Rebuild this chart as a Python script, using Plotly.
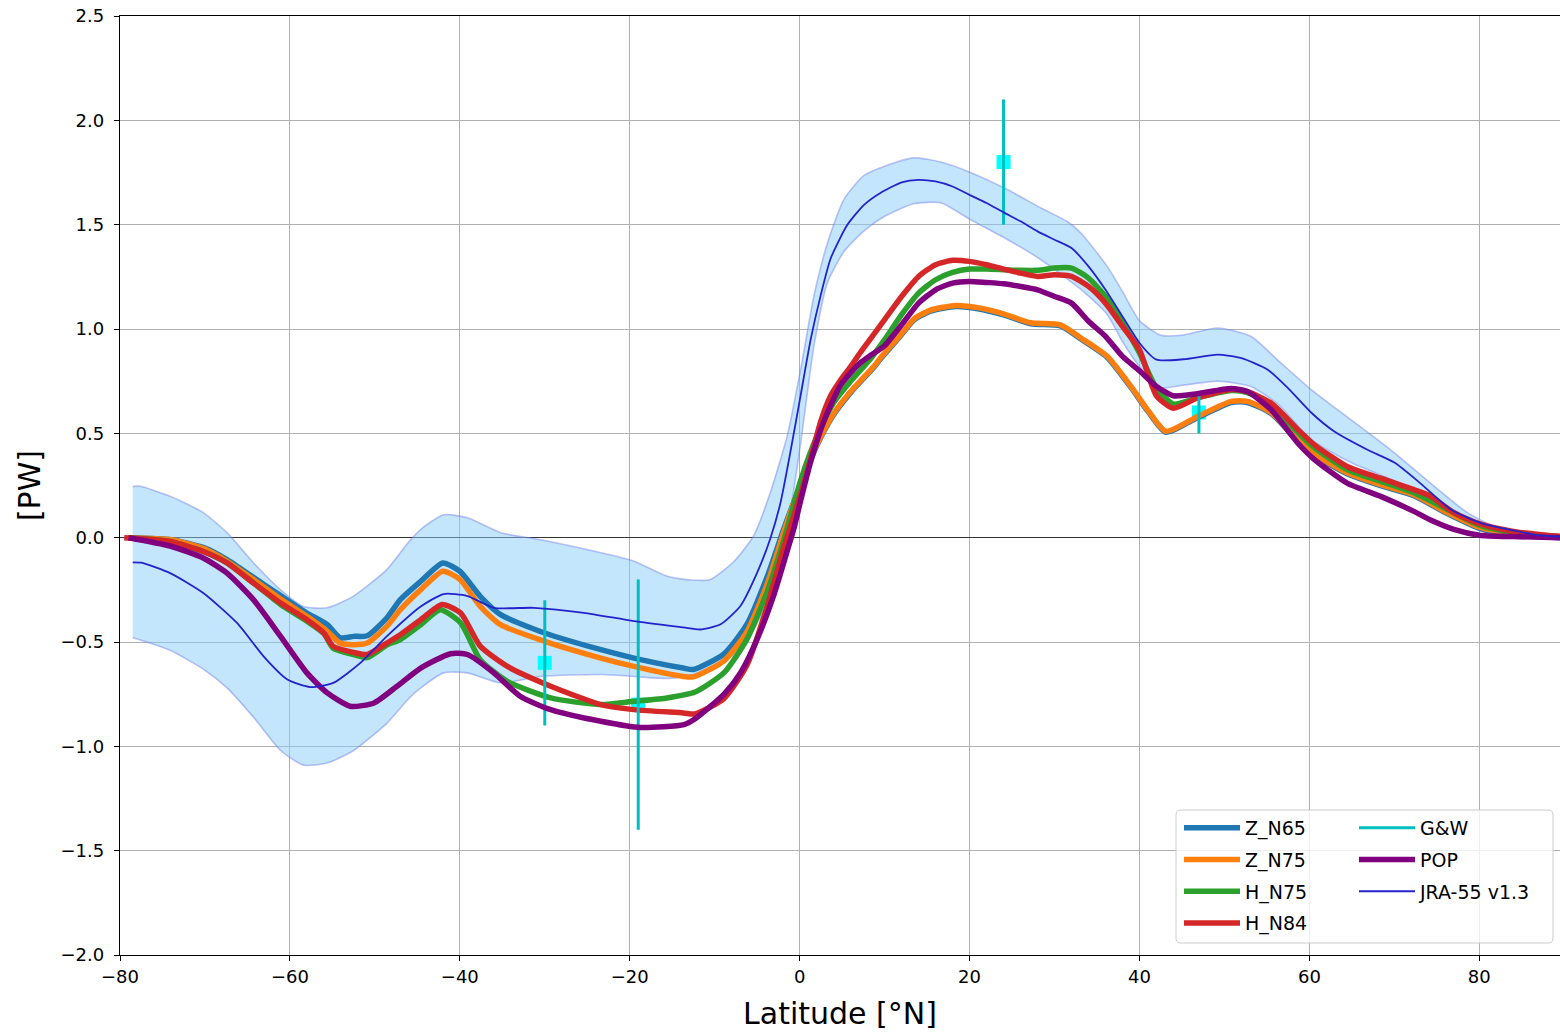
import plotly.graph_objects as go

FONT = "DejaVu Sans"

# ---------------- data (latitude in degrees N, heat transport in PW) ----------------
z65_lat = [-79, -74, -70, -67.4, -64.3, -61, -58, -55.6, -54.1, -52.5, -50.9, -48.6, -47, -44.6,
           -42, -40, -37.6, -35.2, -30, -23.4, -19.5, -13.7, -12.5, -8.9, -6.2, -3.8, -1.84, 0.12,
           2.1, 4, 6, 8.8, 9.5, 11.9, 13.5, 15.4, 18.4, 21.3, 24, 27.2, 30.7, 33.1, 36.2, 39, 41,
           43.1, 46.8, 50.8, 52.7, 55.5, 58.6, 60.6, 64.5, 68.4, 72.3, 76, 80, 84, 89.5]
z65_val = [0.0, -0.01, -0.05, -0.105, -0.19, -0.28, -0.361, -0.417, -0.48, -0.473, -0.47, -0.385,
           -0.297, -0.209, -0.121, -0.161, -0.281, -0.369, -0.457, -0.537, -0.577, -0.625, -0.632,
           -0.557, -0.415, -0.185, 0.045, 0.255, 0.448, 0.589, 0.695, 0.819, 0.856, 0.968, 1.045,
           1.085, 1.108, 1.095, 1.068, 1.025, 1.015, 0.952, 0.864, 0.72, 0.605, 0.505, 0.575, 0.648,
           0.648, 0.595, 0.465, 0.395, 0.305, 0.249, 0.201, 0.12, 0.045, 0.015, 0.0]

z75_lat = z65_lat
z75_val = [0.0, -0.01, -0.055, -0.113, -0.2, -0.297, -0.377, -0.449, -0.505, -0.513, -0.505, -0.425,
           -0.345, -0.249, -0.161, -0.2, -0.329, -0.417, -0.497, -0.577, -0.617, -0.665, -0.667,
           -0.59, -0.45, -0.22, 0.03, 0.26, 0.453, 0.594, 0.7, 0.824, 0.861, 0.973, 1.05, 1.09,
           1.113, 1.1, 1.073, 1.03, 1.02, 0.957, 0.869, 0.725, 0.61, 0.51, 0.58, 0.653, 0.653, 0.6,
           0.47, 0.4, 0.31, 0.254, 0.206, 0.125, 0.05, 0.02, 0.005]

h75_lat = [-79, -74.1, -70.2, -67.4, -64.3, -61.1, -58, -56, -54.9, -52.5, -50.9, -48.6, -47, -44.6,
           -42.3, -39.9, -37.6, -34.4, -29.3, -23.4, -19.5, -15.6, -12.3, -8.9, -6.2, -3.8, -1.84,
           0.12, 2.08, 4, 6, 8.4, 10, 12, 14, 16, 18, 20, 22, 24, 26, 28, 30, 32, 34, 36, 38, 40,
           42, 44, 46.8, 50.8, 52.7, 55.5, 58.6, 60.6, 64.5, 68.4, 72.3, 76, 80, 84, 89.5]
h75_val = [0.0, -0.018, -0.066, -0.121, -0.217, -0.32, -0.4, -0.46, -0.53, -0.56, -0.575, -0.515,
           -0.488, -0.417, -0.345, -0.409, -0.585, -0.689, -0.768, -0.8, -0.784, -0.768, -0.74,
           -0.647, -0.486, -0.256, -0.008, 0.275, 0.49, 0.647, 0.75, 0.86, 0.949, 1.069, 1.172,
           1.236, 1.271, 1.287, 1.287, 1.284, 1.281, 1.281, 1.292, 1.292, 1.244, 1.156, 1.029,
           0.885, 0.717, 0.64, 0.67, 0.705, 0.695, 0.635, 0.505, 0.43, 0.325, 0.27, 0.215, 0.14,
           0.06, 0.025, 0.005]

h84_lat = [-79.5, -74.1, -70.2, -67.4, -64.3, -61.1, -58, -56, -54.9, -52.5, -50.9, -48.6, -47,
           -44.6, -42.1, -39.9, -37.6, -34.4, -29.3, -23.4, -19.5, -13.7, -12.3, -8.9, -6.2, -3.8,
           -1.84, 0.12, 1.3, 2.5, 3.65, 4.8, 6, 7.2, 10, 12, 14, 16, 18, 20, 22, 24, 26, 28,
           30, 32, 34, 36, 38, 40, 42, 44, 46.8, 50.8, 52.7, 55.5, 58.6, 60.6, 64.5, 68.4, 72.3,
           74.2, 77, 80, 84, 89.5]
h84_val = [0.0, -0.018, -0.066, -0.121, -0.217, -0.313, -0.393, -0.457, -0.521, -0.55, -0.56,
           -0.505, -0.465, -0.393, -0.32, -0.361, -0.52, -0.617, -0.712, -0.8, -0.824, -0.84,
           -0.845, -0.77, -0.61, -0.326, -0.043, 0.21, 0.38, 0.56, 0.68, 0.754, 0.82, 0.89,
           1.045, 1.156, 1.252, 1.308, 1.329, 1.324, 1.308, 1.287, 1.268, 1.252, 1.26, 1.252,
           1.204, 1.124, 1.013, 0.9, 0.68, 0.62, 0.67, 0.71, 0.7, 0.645, 0.52, 0.445, 0.34, 0.285,
           0.23, 0.2, 0.12, 0.067, 0.03, 0.005]

pop_lat = [-79, -74.1, -70.2, -67.4, -64.3, -61.1, -58, -55.6, -52.9, -50.1, -47.4, -44.6, -41.1,
           -39.1, -36, -32.9, -29.3, -23.4, -18.7, -13.6, -12.3, -8.9, -6.95, -5, -3.02, -1.45,
           -0.67, 0.12, 1.3, 2.86, 4.8, 6, 7.2, 8.4, 10, 12, 14, 16, 18, 20, 22, 24, 26, 28, 30,
           32, 34, 36, 38, 40, 42, 44, 46.8, 50.8, 52.7, 55.5, 58.6, 60.6, 64.5, 68.4, 72.3, 74.2,
           77, 80, 84, 89.5]
pop_val = [0.0, -0.04, -0.097, -0.17, -0.297, -0.473, -0.648, -0.744, -0.808, -0.792, -0.712,
           -0.625, -0.556, -0.56, -0.648, -0.76, -0.824, -0.88, -0.91, -0.896, -0.868, -0.75,
           -0.647, -0.486, -0.273, -0.062, 0.045, 0.178, 0.364, 0.559, 0.73, 0.79, 0.84, 0.875,
           0.92, 1.02, 1.124, 1.188, 1.22, 1.228, 1.223, 1.217, 1.204, 1.188, 1.156, 1.124, 1.037,
           0.965, 0.869, 0.8, 0.725, 0.68, 0.69, 0.715, 0.7, 0.613, 0.455, 0.374, 0.26, 0.198,
           0.126, 0.086, 0.04, 0.012, 0.005, 0.0]

jra_lat = [-78.5, -77.5, -74.1, -70.2, -66.2, -63.1, -60.3, -57.6, -54.9, -51.7, -48.6, -44.6,
           -41.9, -39.1, -36, -31.3, -25.4, -19.5, -13.7, -11.7, -9.3, -6.95, -5, -3.42, -2.24,
           -1.06, 0.12, 1.3, 2.47, 3.65, 5.6, 7.58, 9.5, 12, 14, 16, 18, 20, 22, 24, 26, 28, 30,
           32, 34, 36, 38, 40, 42, 45.2, 49.2, 52, 55.1, 57.4, 60.2, 62.9, 66.9, 70, 72.8, 76.7,
           80.2, 86.5, 89.5]
jra_val = [-0.118, -0.12, -0.17, -0.265, -0.41, -0.569, -0.68, -0.716, -0.696, -0.6, -0.473,
           -0.33, -0.27, -0.28, -0.336, -0.336, -0.36, -0.4, -0.43, -0.44, -0.415, -0.326, -0.168,
           0.0, 0.17, 0.417, 0.683, 0.95, 1.16, 1.338, 1.498, 1.595, 1.652, 1.703, 1.715, 1.707,
           1.683, 1.643, 1.604, 1.559, 1.516, 1.468, 1.428, 1.388, 1.3, 1.188, 1.06, 0.933, 0.853,
           0.855, 0.877, 0.86, 0.805, 0.72, 0.6, 0.51, 0.42, 0.36, 0.27, 0.134, 0.07, 0.015, 0.005]

band_lat = [-78.5, -77.6, -74.1, -70.2, -67.4, -64.3, -61.1, -58.4, -55.6, -52.5, -48.6, -46,
            -44.6, -41.9, -39.1, -35.2, -30.5, -23.4, -19.5, -15.6, -12.8, -10.5, -7.74, -5.4,
            -3.42, -1.45, 0.12, 1.69, 3.26, 5.2, 7.58, 10, 13.4, 16.6, 20.1, 24.5, 28.4, 31.5,
            33.1, 36.2, 38, 40, 42.5, 45, 49.2, 53.1, 56.3, 60.2, 64.9, 69.6, 74.7, 78.6, 82.6, 89.5]
band_upper = [0.246, 0.246, 0.198, 0.12, 0.024, -0.12, -0.25, -0.33, -0.336, -0.28, -0.153, -0.02,
              0.04, 0.11, 0.095, 0.024, -0.01, -0.072, -0.113, -0.185, -0.203, -0.2, -0.114, 0.01,
              0.22, 0.49, 0.807, 1.16, 1.41, 1.62, 1.736, 1.78, 1.82, 1.8, 1.75, 1.667, 1.58,
              1.515, 1.46, 1.3, 1.18, 1.04, 0.97, 0.97, 1.005, 0.965, 0.85, 0.71, 0.565, 0.42,
              0.246, 0.12, 0.04, 0.005]
band_lower = [-0.48, -0.49, -0.54, -0.63, -0.72, -0.86, -1.02, -1.09, -1.08, -1.02, -0.89, -0.77,
              -0.72, -0.648, -0.648, -0.696, -0.665, -0.656, -0.665, -0.675, -0.66, -0.62, -0.56,
              -0.44, -0.27, 0.04, 0.453, 0.92, 1.22, 1.37, 1.47, 1.54, 1.6, 1.605, 1.524, 1.428,
              1.332, 1.24, 1.19, 1.07, 0.94, 0.82, 0.72, 0.73, 0.75, 0.725, 0.64, 0.47, 0.36,
              0.28, 0.19, 0.09, 0.03, 0.0]

gw_lat = [-30, -19, 24, 47]
gw_val = [-0.6, -0.8, 1.8, 0.6]
gw_err = [0.3, 0.6, 0.3, 0.1]

x_ticks = [-80, -60, -40, -20, 0, 20, 40, 60, 80]
y_ticks = [-2.0, -1.5, -1.0, -0.5, 0.0, 0.5, 1.0, 1.5, 2.0, 2.5]

# ---------------- figure ----------------
fig = go.Figure()

band_edge = "rgba(110,125,235,0.45)"
fig.add_trace(go.Scatter(x=band_lat, y=band_lower, mode="lines",
                         line=dict(color=band_edge, width=1.6, shape="spline", smoothing=0.6),
                         showlegend=False, hoverinfo="skip"))
fig.add_trace(go.Scatter(x=band_lat, y=band_upper, mode="lines",
                         line=dict(color=band_edge, width=1.6, shape="spline", smoothing=0.6),
                         fill="tonexty", fillcolor="rgba(135,206,250,0.5)", showlegend=False,
                         hoverinfo="skip"))

# G&W markers (below model lines)
fig.add_trace(go.Scatter(x=gw_lat, y=gw_val, mode="markers",
                         marker=dict(symbol="square", size=14, color="#00ffff", line=dict(width=0)),
                         showlegend=False, hoverinfo="skip"))

THICK = 5.5
models = [
    ("Z_N65", z65_lat, z65_val, "#1f77b4"),
    ("Z_N75", z75_lat, z75_val, "#ff7f0e"),
    ("H_N75", h75_lat, h75_val, "#2ca02c"),
    ("H_N84", h84_lat, h84_val, "#d62728"),
]
for i, (name, xs, ys, col) in enumerate(models):
    fig.add_trace(go.Scatter(x=xs, y=ys, mode="lines", name=name, legend="legend", legendgroup=name,
                             legendrank=i + 1,
                             line=dict(color=col, width=THICK, shape="spline", smoothing=0.6)))

# G&W error bars
ex, ey = [], []
for la, v, e in zip(gw_lat, gw_val, gw_err):
    ex += [la, la, None]
    ey += [v - e, v + e, None]
fig.add_trace(go.Scatter(x=ex, y=ey, mode="lines", name="G&amp;W", legend="legend2", legendgroup="GW",
                         legendrank=1, line=dict(color="#00bfbf", width=3)))

fig.add_trace(go.Scatter(x=pop_lat, y=pop_val, mode="lines", name="POP", legend="legend2",
                         legendgroup="POP", legendrank=2,
                         line=dict(color="#800080", width=THICK, shape="spline", smoothing=0.6)))
fig.add_trace(go.Scatter(x=jra_lat, y=jra_val, mode="lines", name="JRA-55 v1.3", legend="legend2",
                         legendgroup="JRA", legendrank=3,
                         line=dict(color="#2323cc", width=1.8, shape="spline", smoothing=0.6)))

# page coordinates (body margin is removed by the post script below)
OFF = 0
W, H = 1560, 1032
PLOT_L, PLOT_R, PLOT_T, PLOT_B = 120, 1560, 16, 955          # target page pixels
ML, MT = PLOT_L - OFF, PLOT_T - OFF
MR = (W + OFF) - PLOT_R
MB = (H + OFF) - PLOT_B
PW_, PH_ = PLOT_R - PLOT_L, PLOT_B - PLOT_T


def px2paper(px, py):
    return (px - PLOT_L) / PW_, (PLOT_B - py) / PH_


# legend frame (rounded rectangle)
x0, y1 = px2paper(1176, 810)
x1, y0 = px2paper(1553, 943)
rx, ry = 5 / PW_, 5 / PH_
path = (f"M {x0+rx},{y0} L {x1-rx},{y0} Q {x1},{y0} {x1},{y0+ry} L {x1},{y1-ry} Q {x1},{y1} {x1-rx},{y1} "
        f"L {x0+rx},{y1} Q {x0},{y1} {x0},{y1-ry} L {x0},{y0+ry} Q {x0},{y0} {x0+rx},{y0} Z")
fig.add_shape(type="path", path=path, xref="paper", yref="paper",
              line=dict(color="#cccccc", width=1), fillcolor="rgba(255,255,255,0.8)", layer="above")

lx1, ly = px2paper(1179, 809)
lx2, _ = px2paper(1354, 809)
leg_common = dict(xanchor="left", yanchor="top", bgcolor="rgba(0,0,0,0)", borderwidth=0,
                  font=dict(family=FONT, size=19, color="black"), itemwidth=56, tracegroupgap=4,
                  traceorder="grouped")

fig.update_layout(
    width=W, height=H,
    margin=dict(l=ML, r=MR, t=MT, b=MB, pad=0, autoexpand=False),
    paper_bgcolor="white", plot_bgcolor="white",
    font=dict(family=FONT, color="black"),
    showlegend=True,
    legend=dict(x=lx1, y=ly, **leg_common),
    legend2=dict(x=lx2, y=ly, **leg_common),
    xaxis=dict(range=[-80, 89.5], tickvals=x_ticks, showgrid=True, gridcolor="#b0b0b0", gridwidth=1.3,
               zeroline=False, showline=True, linecolor="black", linewidth=1.3, mirror=True,
               ticks="outside", ticklen=5, tickwidth=1.3, tickcolor="black",
               ticklabeloverflow="allow", automargin=False,
               tickfont=dict(family=FONT, size=18, color="black"),
               title=dict(text="Latitude [°N]", font=dict(family=FONT, size=30, color="black"),
                          standoff=17)),
    yaxis=dict(range=[-2.0, 2.5], tickvals=y_ticks, tickformat=".1f", showgrid=True,
               gridcolor="#b0b0b0", gridwidth=1.3, zeroline=True, zerolinecolor="#333333",
               zerolinewidth=1.3, showline=True, linecolor="black", linewidth=1.3, mirror=False,
               ticks="outside", ticklen=5, tickwidth=1.3, tickcolor="black", ticklabelstandoff=6,
               ticklabeloverflow="allow", automargin=False,
               tickfont=dict(family=FONT, size=18, color="black"),
               title=dict(text="[PW]", font=dict(family=FONT, size=30, color="black"), standoff=11)),
)

fig.write_html("out.html", config={"displayModeBar": False},
               post_script="document.body.style.margin='0';document.body.style.overflow='hidden';")
